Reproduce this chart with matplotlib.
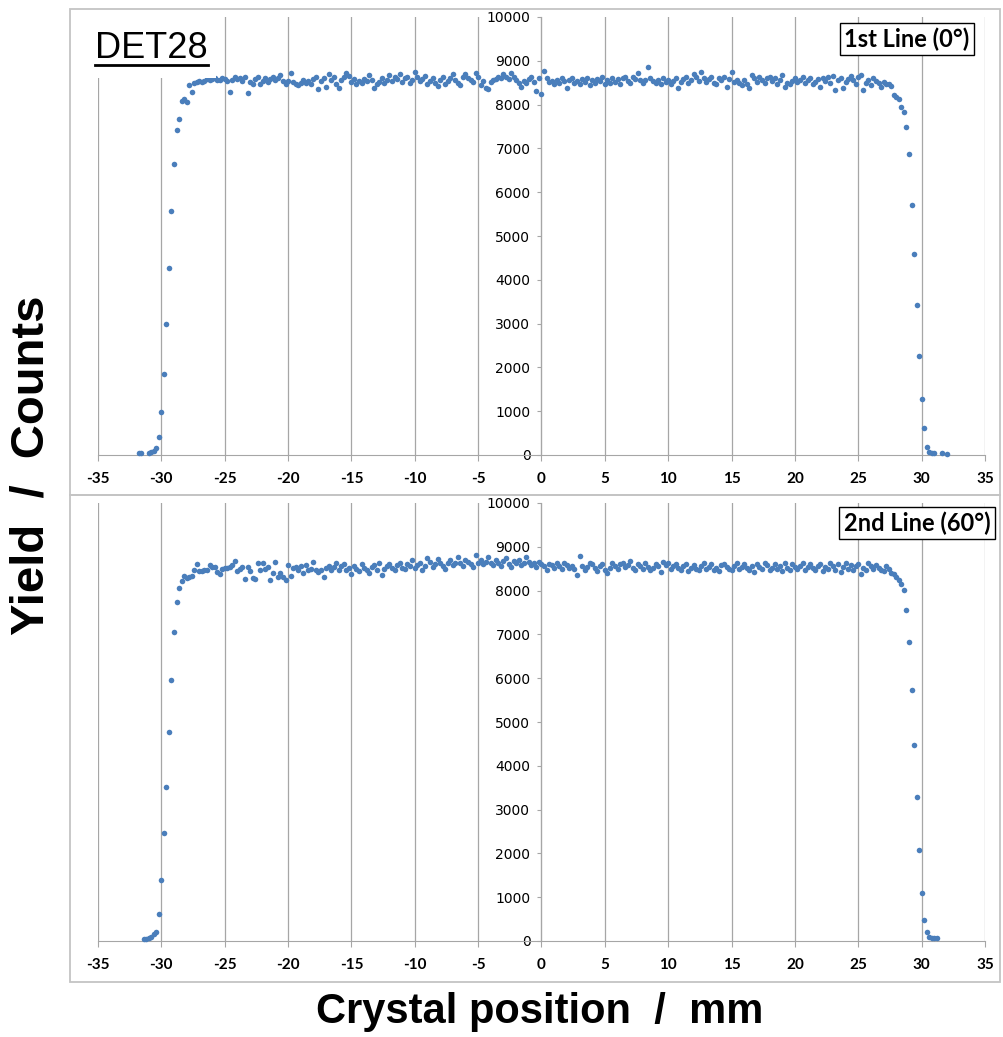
import numpy as np
import matplotlib
matplotlib.use("Agg")
import matplotlib.pyplot as plt
from matplotlib.patches import Rectangle
from matplotlib.lines import Line2D

# scan positions (mm), shared by both lines
positions = [
    -31.8, -31.6, -31.4, -31.2, -31.0, -30.8, -30.6, -30.4, -30.2, -30.0,
    -29.8, -29.6, -29.4, -29.2, -29.0, -28.8, -28.6, -28.4, -28.2, -28.0,
    -27.8, -27.6, -27.4, -27.2, -27.0, -26.8, -26.6, -26.4, -26.2, -26.0,
    -25.8, -25.6, -25.4, -25.2, -25.0, -24.8, -24.6, -24.4, -24.2, -24.0,
    -23.8, -23.6, -23.4, -23.2, -23.0, -22.8, -22.6, -22.4, -22.2, -22.0,
    -21.8, -21.6, -21.4, -21.2, -21.0, -20.8, -20.6, -20.4, -20.2, -20.0,
    -19.8, -19.6, -19.4, -19.2, -19.0, -18.8, -18.6, -18.4, -18.2, -18.0,
    -17.8, -17.6, -17.4, -17.2, -17.0, -16.8, -16.6, -16.4, -16.2, -16.0,
    -15.8, -15.6, -15.4, -15.2, -15.0, -14.8, -14.6, -14.4, -14.2, -14.0,
    -13.8, -13.6, -13.4, -13.2, -13.0, -12.8, -12.6, -12.4, -12.2, -12.0,
    -11.8, -11.6, -11.4, -11.2, -11.0, -10.8, -10.6, -10.4, -10.2, -10.0,
    -9.8, -9.6, -9.4, -9.2, -9.0, -8.8, -8.6, -8.4, -8.2, -8.0,
    -7.8, -7.6, -7.4, -7.2, -7.0, -6.8, -6.6, -6.4, -6.2, -6.0,
    -5.8, -5.6, -5.4, -5.2, -5.0, -4.8, -4.6, -4.4, -4.2, -4.0,
    -3.8, -3.6, -3.4, -3.2, -3.0, -2.8, -2.6, -2.4, -2.2, -2.0,
    -1.8, -1.6, -1.4, -1.2, -1.0, -0.8, -0.6, -0.4, -0.2, 0.0,
    0.2, 0.4, 0.6, 0.8, 1.0, 1.2, 1.4, 1.6, 1.8, 2.0,
    2.2, 2.4, 2.6, 2.8, 3.0, 3.2, 3.4, 3.6, 3.8, 4.0,
    4.2, 4.4, 4.6, 4.8, 5.0, 5.2, 5.4, 5.6, 5.8, 6.0,
    6.2, 6.4, 6.6, 6.8, 7.0, 7.2, 7.4, 7.6, 7.8, 8.0,
    8.2, 8.4, 8.6, 8.8, 9.0, 9.2, 9.4, 9.6, 9.8, 10.0,
    10.2, 10.4, 10.6, 10.8, 11.0, 11.2, 11.4, 11.6, 11.8, 12.0,
    12.2, 12.4, 12.6, 12.8, 13.0, 13.2, 13.4, 13.6, 13.8, 14.0,
    14.2, 14.4, 14.6, 14.8, 15.0, 15.2, 15.4, 15.6, 15.8, 16.0,
    16.2, 16.4, 16.6, 16.8, 17.0, 17.2, 17.4, 17.6, 17.8, 18.0,
    18.2, 18.4, 18.6, 18.8, 19.0, 19.2, 19.4, 19.6, 19.8, 20.0,
    20.2, 20.4, 20.6, 20.8, 21.0, 21.2, 21.4, 21.6, 21.8, 22.0,
    22.2, 22.4, 22.6, 22.8, 23.0, 23.2, 23.4, 23.6, 23.8, 24.0,
    24.2, 24.4, 24.6, 24.8, 25.0, 25.2, 25.4, 25.6, 25.8, 26.0,
    26.2, 26.4, 26.6, 26.8, 27.0, 27.2, 27.4, 27.6, 27.8, 28.0,
    28.2, 28.4, 28.6, 28.8, 29.0, 29.2, 29.4, 29.6, 29.8, 30.0,
    30.2, 30.4, 30.6, 30.8, 31.0, 31.2, 31.4, 31.6, 31.8, 32.0,
]

# counts, 1st line (0 deg); None = no point
yield_0deg = [
    # rising edge -31.8 .. -27.6
    40, 40, None, None, 50, 70, 100, 160, 400, 980,
    1850, 2980, 4280, 5560, 6650, 7420, 7680, 8090, 8120, 8060,
    8440, 8280,
    # plateau -27.4 .. 27.6
    8490, 8520, 8530, 8510, 8550, 8580, 8560, 8590, 8600, 8570,
    8560, 8600, 8580, 8540, 8290, 8570, 8620, 8580, 8600, 8540,
    8620, 8260, 8510, 8460, 8580, 8640, 8480, 8540, 8600, 8520,
    8580, 8620, 8560, 8600, 8680, 8540, 8480, 8550, 8730, 8520,
    8470, 8440, 8500, 8560, 8490, 8530, 8460, 8590, 8620, 8350,
    8540, 8600, 8400, 8700, 8560, 8620, 8480, 8370, 8560, 8620,
    8730, 8650, 8520, 8580, 8460, 8540, 8500, 8590, 8530, 8680,
    8560, 8370, 8470, 8520, 8610, 8490, 8560, 8680, 8540, 8620,
    8580, 8700, 8520, 8600, 8640, 8490, 8560, 8750, 8620, 8540,
    8590, 8660, 8480, 8540, 8600, 8500, 8420, 8560, 8630, 8470,
    8540, 8600, 8690, 8560, 8500, 8440, 8620, 8690, 8600, 8560,
    8515, 8715, 8620, 8440, 8540, 8380, 8360, 8520, 8560, 8590,
    8640, 8600, 8690, 8640, 8580, 8730, 8620, 8560, 8500, 8410,
    8540, 8490, 8580, 8640, 8520, 8310, 8600, 8250, 8770, 8600,
    8520, 8540, 8470, 8560, 8500, 8615, 8530, 8385, 8560, 8615,
    8500, 8550, 8470, 8590, 8520, 8600, 8440, 8560, 8500, 8580,
    8540, 8620, 8480, 8560, 8500, 8600, 8520, 8580, 8470, 8600,
    8620, 8550, 8500, 8640, 8590, 8720, 8560, 8500, 8560, 8860,
    8600, 8540, 8500, 8560, 8480, 8600, 8520, 8560, 8470, 8540,
    8600, 8380, 8520, 8580, 8640, 8500, 8560, 8700, 8620, 8540,
    8750, 8600, 8520, 8580, 8640, 8500, 8460, 8600, 8560, 8620,
    8400, 8580, 8750, 8520, 8560, 8500, 8450, 8560, 8480, 8370,
    8680, 8600, 8520, 8640, 8560, 8500, 8600, 8620, 8540, 8600,
    8480, 8560, 8680, 8410, 8500, 8460, 8540, 8600, 8520, 8560,
    8640, 8500, 8560, 8600, 8460, 8520, 8580, 8400, 8600, 8540,
    8620, 8500, 8650, 8330, 8560, 8600, 8370, 8520, 8580, 8650,
    8560, 8480, 8620, 8680, 8330, 8500, 8560, 8440, 8600, 8540,
    8500, 8400, 8520, 8480, 8460, 8420,
    # falling edge 27.8 .. 32.0
    8220, 8165, 8130, 7940, 7820, 7500, 6880, 5700, 4580, 3420,
    2270, 1270, 620, 180, 60, 50, 50, None, None, 40,
    None, 20,
]

# counts, 2nd line (60 deg)
yield_60deg = [
    None, None, 45, 45, 60, 100, 150, 210, 610, 1390,
    2470, 3520, 4770, 5960, 7060, 7740, 8050, 8230, 8330, 8280,
    8300, 8330,
    8470, 8610, 8440, 8450, 8460, 8470, 8590, 8540, 8550, 8420,
    8390, 8490, 8510, 8510, 8540, 8590, 8680, 8440, 8490, 8540,
    8270, 8540, 8450, 8290, 8260, 8620, 8470, 8620, 8500, 8530,
    8240, 8400, 8660, 8320, 8400, 8320, 8240, 8580, 8330, 8510,
    8540, 8470, 8560, 8400, 8580, 8470, 8500, 8660, 8470, 8420,
    8470, 8320, 8510, 8560, 8470, 8530, 8620, 8480, 8560, 8600,
    8460, 8520, 8380, 8560, 8500, 8440, 8600, 8520, 8460, 8400,
    8540, 8580, 8480, 8620, 8360, 8500, 8560, 8600, 8520, 8460,
    8580, 8640, 8520, 8500, 8600, 8560, 8700, 8520, 8580, 8620,
    8480, 8560, 8740, 8660, 8540, 8600, 8720, 8640, 8560, 8500,
    8620, 8700, 8580, 8640, 8760, 8620, 8560, 8700, 8660, 8600,
    8540, 8820, 8620, 8700, 8600, 8660, 8760, 8640, 8580, 8700,
    8620, 8560, 8680, 8740, 8600, 8540, 8680, 8620, 8700, 8580,
    8640, 8760, 8660, 8580, 8620, 8540, 8660, 8600, 8560, 8480,
    8600, 8580, 8520, 8640, 8560, 8500, 8620, 8580, 8520, 8560,
    8500, 8360, 8790, 8560, 8480, 8540, 8620, 8600, 8520, 8440,
    8560, 8600, 8480, 8400, 8520, 8620, 8560, 8500, 8600, 8640,
    8540, 8580, 8680, 8520, 8460, 8600, 8560, 8500, 8620, 8540,
    8480, 8520, 8600, 8560, 8420, 8660, 8580, 8640, 8500, 8560,
    8600, 8520, 8480, 8560, 8600, 8440, 8520, 8580, 8500, 8460,
    8560, 8620, 8500, 8540, 8600, 8480, 8520, 8440, 8580, 8600,
    8540, 8500, 8460, 8560, 8620, 8500, 8540, 8600, 8520, 8480,
    8560, 8420, 8600, 8540, 8500, 8620, 8580, 8460, 8520, 8600,
    8500, 8560, 8440, 8620, 8520, 8480, 8600, 8540, 8500, 8560,
    8620, 8460, 8540, 8600, 8520, 8480, 8560, 8600, 8440, 8540,
    8500, 8620, 8560, 8480, 8600, 8420, 8540, 8620, 8500, 8580,
    8460, 8560, 8600, 8380, 8520, 8480, 8620, 8560, 8500, 8580,
    8520, 8480, 8440, 8560, 8500, 8400,
    8380, 8300, 8240, 8150, 8010, 7560, 6830, 5730, 4470, 3290,
    2080, 1100, 480, 200, 80, 70, 60, 60, None, None,
    None, None,
]

x_ticks = [-35, -30, -25, -20, -15, -10, -5, 0, 5, 10, 15, 20, 25, 30, 35]
y_ticks = [0, 1000, 2000, 3000, 4000, 5000, 6000, 7000, 8000, 9000, 10000]
line_labels = ["1st Line (0°)", "2nd Line (60°)"]

assert len(yield_0deg) == len(positions) == len(yield_60deg)

W, H = 1004, 1037
BLUE = "#4A7EBB"
GRAY = "#A6A6A6"

plt.rcParams["axes.unicode_minus"] = False

fig = plt.figure(figsize=(W / 100, H / 100), dpi=100)


def fx(px):
    return px / W


def fy(py):
    return 1 - py / H


# light frames around the two panels
for top, bottom in [(9, 495), (495, 982)]:
    fig.patches.append(Rectangle((fx(70), fy(bottom)), fx(1000) - fx(70), fy(top) - fy(bottom),
                                 transform=fig.transFigure, fill=False, ec="#C4C4C4", lw=1.3, zorder=0))


def panel(zero_px, values, label, label_xy):
    ax = fig.add_axes([fx(98), fy(zero_px), fx(985) - fx(98), 438 / H])
    ax.patch.set_alpha(0)
    y = np.array(values, dtype=float)
    ax.scatter(positions, y, s=16, color=BLUE, lw=0, zorder=3, clip_on=False)
    ax.set_xlim(-35, 35)
    ax.set_ylim(0, 10000)

    ax.set_xticks(x_ticks, labels=[str(t) for t in x_ticks],
                  fontsize=11, fontweight="bold", family="Lato")
    ax.set_yticks(y_ticks, labels=[str(t) for t in y_ticks],
                  fontsize=8.5, fontweight="bold", family="Lato")
    ax.tick_params(axis="x", direction="out", length=4, width=0.8, color=GRAY, pad=8.5)
    ax.tick_params(axis="y", direction="out", length=3, width=0.8, color=GRAY, pad=5)

    for side in ["top", "right"]:
        ax.spines[side].set_visible(False)
    ax.spines["left"].set_position(("data", 0))
    ax.spines["left"].set_color(GRAY)
    ax.spines["bottom"].set_color(GRAY)
    ax.grid(axis="x", color=GRAY, lw=0.9)
    ax.set_axisbelow(True)

    fig.text(fx(label_xy[0]), fy(label_xy[1]), label, ha="center", va="center",
             fontsize=17, fontweight="bold", family="Lato", zorder=6,
             bbox=dict(boxstyle="square,pad=0.18", fc="white", ec="black", lw=1.0))
    return ax


panel(455, yield_0deg, line_labels[0], (907, 39))
panel(941, yield_60deg, line_labels[1], (917, 523))

# detector name, white box hides grid lines behind it
fig.patches.append(Rectangle((fx(88), fy(78)), fx(216) - fx(88), fy(14) - fy(78),
                             transform=fig.transFigure, fc="white", ec="none", zorder=4))
det = fig.text(fx(95), fy(58), "DET28", fontsize=26, family="Liberation Sans",
               ha="left", va="baseline", zorder=5)
fig.canvas.draw()
bb = det.get_window_extent()
fig.add_artist(Line2D([bb.x0 / W, bb.x1 / W], [fy(65), fy(65)], transform=fig.transFigure,
                      color="black", lw=2, zorder=5))

fig.text(fx(32), fy(465), "Yield  /  Counts", rotation=90, ha="center", va="center",
         fontsize=34, fontweight="bold", family="Liberation Sans")
fig.text(fx(540), fy(1012), "Crystal position  /  mm", ha="center", va="center",
         fontsize=30, fontweight="bold", family="Liberation Sans")

fig.savefig("out.png", dpi=100)
